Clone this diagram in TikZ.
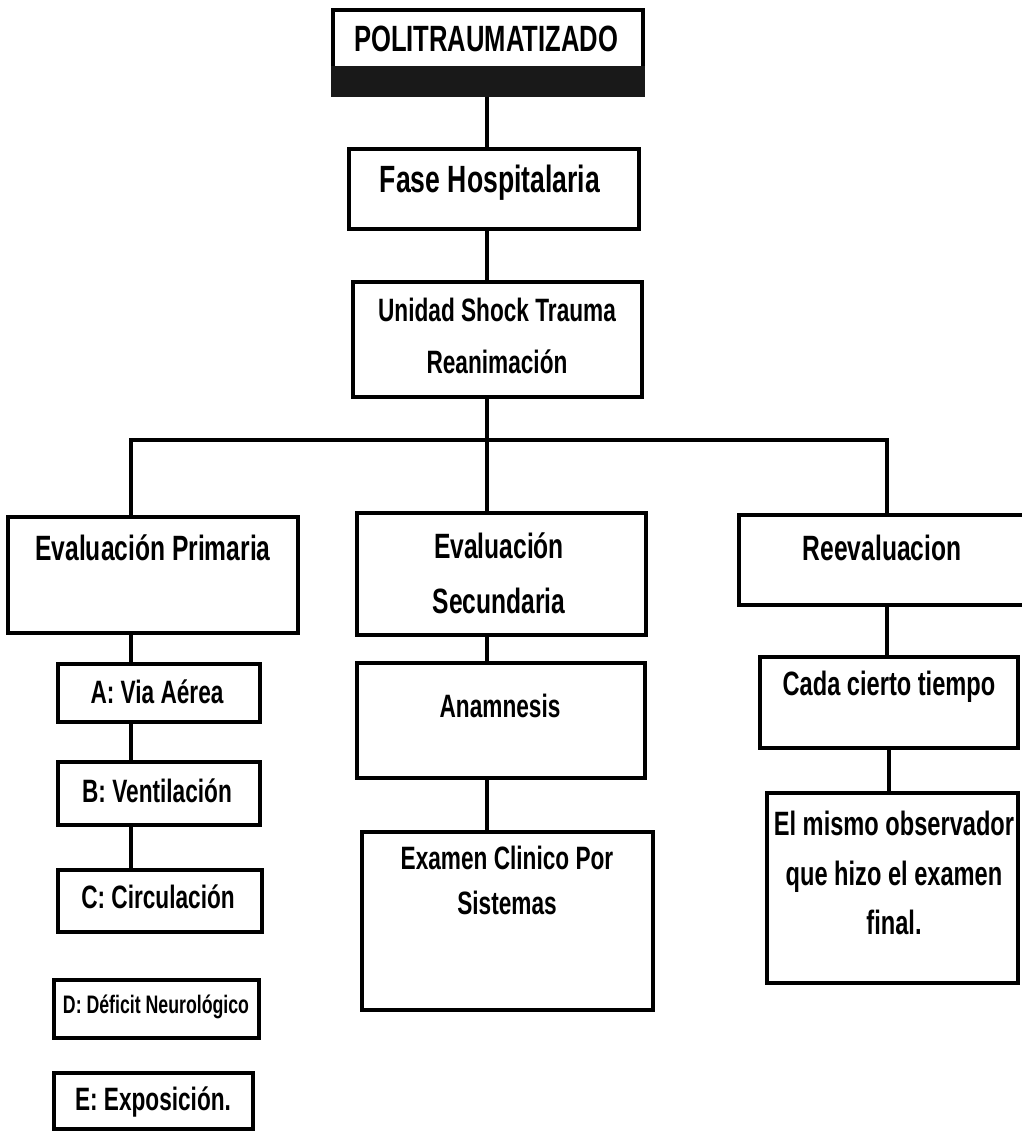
\documentclass[tikz,border=0pt]{standalone}
\usepackage{fontspec}
\setmainfont{Liberation Sans}[FakeStretch=0.7]
\usetikzlibrary{positioning, fit, calc}

\begin{document}
\begin{tikzpicture}[
    x=0.025cm, y=-0.025cm,
    box/.style={draw=black, line width=2.6pt, inner sep=0pt},
    txt/.style 2 args={font=\bfseries\fontsize{#1}{#2}\selectfont, align=center, inner sep=0pt},
    link/.style={line width=2.6pt, black}
]
\useasboundingbox (0,0) rectangle (1021,1132);

% boxes
\node[box, fit={(333,10) (643,95)}] (poli) {};
\fill[black!90] ($(poli.south west)+(0,-31)$) rectangle (poli.south east);
\node[box, fit={(349,149) (639,229)}] (fase) {};
\node[box, fit={(353,282) (642,397)}] (unidad) {};
\node[box, fit={(8,517) (298,633)}] (primaria) {};
\node[box, fit={(357,513) (646,635)}] (secundaria) {};
\node[box, fit={(739,515) (1025,605)}] (reeval) {};
\node[box, fit={(58,664) (260,722)}] (a) {};
\node[box, fit={(58,762) (260,825)}] (b) {};
\node[box, fit={(58,870) (262,932)}] (c) {};
\node[box, fit={(54,980) (259,1038)}] (d) {};
\node[box, fit={(54,1073) (253,1129)}] (e) {};
\node[box, fit={(357,663) (645,778)}] (anamnesis) {};
\node[box, fit={(362,832) (653,1010)}] (examen) {};
\node[box, fit={(760,657) (1018,748)}] (cada) {};
\node[box, fit={(767,793) (1018,983)}] (mismo) {};

% texts
\node[txt={26}{30}] (poli-t) at (486,39) {POLITRAUMATIZADO};
\node[txt={27}{30}] (fase-t) at (490,183) {Fase Hospitalaria};
\node[txt={23}{37}] (unidad-t) at (497,336) {Unidad Shock Trauma\\Reanimación};
\node[txt={25}{30}] (primaria-t) at (153,548) {Evaluación Primaria};
\node[txt={25}{39}] (secundaria-t) at (499,573) {Evaluación\\Secundaria};
\node[txt={25}{30}] (reeval-t) at (882,548) {Reevaluacion};
\node[txt={23}{30}] (a-t) at (157,692) {A: Via Aérea};
\node[txt={23}{30}] (b-t) at (157,791) {B: Ventilación};
\node[txt={23}{30}] (c-t) at (158,897) {C: Circulación};
\node[txt={18}{30}] (d-t) at (156,1007) {D: Déficit Neurológico};
\node[txt={23}{30}] (e-t) at (153,1102) {E: Exposición.};
\node[txt={23}{30}] (anamnesis-t) at (500,706) {Anamnesis};
\node[txt={23}{32}] (examen-t) at (507,880) {Examen Clinico Por\\Sistemas};
\node[txt={24}{30}] (cada-t) at (889,687) {Cada cierto tiempo};
\node[txt={24}{35.5}] (mismo-t) at (894,873) {El mismo observador\\que hizo el examen\\final.};

% connectors
\coordinate (hub) at (487,440);
\coordinate (colL) at (131,440);
\coordinate (colR) at (887,440);
\draw[link] (poli.south -| hub) -- (fase.north -| hub);
\draw[link] (fase.south -| hub) -- (unidad.north -| hub);
\draw[link] (unidad.south -| hub) -- (secundaria.north -| hub);
\draw[link] (colL |- primaria.north) -- (colL) -- (colR) -- (colR |- reeval.north);
\draw[link] (primaria.south -| colL) -- (a.north -| colL);
\draw[link] (a.south -| colL) -- (b.north -| colL);
\draw[link] (b.south -| colL) -- (c.north -| colL);
\draw[link] (secundaria.south -| hub) -- (anamnesis.north -| hub);
\draw[link] (anamnesis.south -| hub) -- (examen.north -| hub);
\draw[link] (reeval.south -| colR) -- (cada.north -| colR);
\draw[link] (cada.south) -- (mismo.north -| cada.south);
\end{tikzpicture}
\end{document}
